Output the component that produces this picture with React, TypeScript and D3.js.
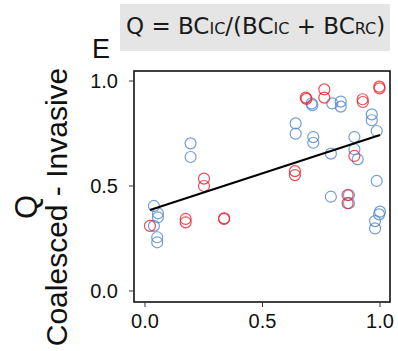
import React from 'react';
import * as d3 from 'd3';

const width = 398;
const height = 351;

// invasive-coalesced pairs, red group
const redX = [0.021, 0.173, 0.173, 0.251, 0.251, 0.336, 0.337, 0.638, 0.638, 0.684, 0.687, 0.763, 0.763, 0.862, 0.862, 0.891, 0.926, 0.927, 0.997, 0.998];
const redY = [0.31, 0.343, 0.327, 0.535, 0.5, 0.343, 0.346, 0.571, 0.552, 0.921, 0.915, 0.96, 0.921, 0.457, 0.418, 0.643, 0.913, 0.9, 0.973, 0.965];

// blue group
const blueX = [0.038, 0.055, 0.055, 0.038, 0.052, 0.052, 0.194, 0.194, 0.641, 0.641, 0.709, 0.712, 0.716, 0.716, 0.791, 0.797, 0.833, 0.833, 0.791, 0.868, 0.868, 0.891, 0.891, 0.905, 0.965, 0.965, 0.986, 0.986, 1.0, 0.996, 0.979, 0.979];
const blueY = [0.405, 0.37, 0.351, 0.31, 0.256, 0.232, 0.703, 0.638, 0.798, 0.749, 0.893, 0.885, 0.733, 0.706, 0.654, 0.893, 0.902, 0.878, 0.449, 0.457, 0.418, 0.733, 0.675, 0.627, 0.841, 0.813, 0.762, 0.524, 0.378, 0.365, 0.333, 0.298];

// fitted line (intercept, slope) and its x span
const fitCoef = [0.378, 0.365];
const fitSpan = [0.021, 1.0];

const xTicks = [0, 0.5, 1];
const yTicks = [0, 0.5, 1];

const blue = '#4f86cc';
const red = '#e6202a';

const panel = { left: 134, right: 390, top: 71, bottom: 302 };

export default function App() {
  const x = d3.scaleLinear().domain([0, 1]).range([145, 380]);
  const y = d3.scaleLinear().domain([0, 1]).range([291, 81]);

  const fit = d3
    .line<number>()
    .x((d) => x(d))
    .y((d) => y(fitCoef[0] + fitCoef[1] * d));

  const fmt = d3.format('.1f');
  const sans = 'Liberation Sans, Arial, sans-serif';

  return (
    <svg
      width={width}
      height={height}
      style={{ position: 'absolute', left: 0, top: 0, background: '#fff' }}
    >
      {/* title strip */}
      <rect x={120} y={4} width={270} height={47} fill="#e5e5e5" />
      <text x={126} y={34} fontFamily="DejaVu Sans, sans-serif" fontSize={23} fill="#1a1a1a">
        Q = BC<tspan fontSize={16}>IC</tspan>/(BC<tspan fontSize={16}>IC</tspan> + BC
        <tspan fontSize={16}>RC</tspan>)
      </text>
      <text x={92} y={58} fontFamily={sans} fontSize={27} fill="#111">
        E
      </text>

      {/* y label */}
      <text
        transform="translate(37,207) rotate(-90)"
        textAnchor="middle"
        fontFamily={sans}
        fontSize={31}
        fill="#111"
      >
        Q
      </text>
      <text
        transform="translate(67,207) rotate(-90)"
        textAnchor="middle"
        fontFamily={sans}
        fontSize={30}
        fill="#111"
      >
        Coalesced - Invasive
      </text>

      {/* points */}
      <g fill="none" strokeWidth={1.2} strokeOpacity={0.8}>
        {blueX.map((v, i) => (
          <circle key={'b' + i} cx={x(v)} cy={y(blueY[i])} r={5.5} stroke={blue} />
        ))}
        {redX.map((v, i) => (
          <circle key={'r' + i} cx={x(v)} cy={y(redY[i])} r={5.5} stroke={red} />
        ))}
      </g>

      <path d={fit(fitSpan) ?? ''} stroke="#000" strokeWidth={2} fill="none" />

      {/* panel border */}
      <rect
        x={panel.left}
        y={panel.top}
        width={panel.right - panel.left}
        height={panel.bottom - panel.top}
        fill="none"
        stroke="#111"
        strokeWidth={1.6}
      />

      {/* y axis ticks */}
      {yTicks.map((t) => (
        <g key={'y' + t}>
          <line x1={panel.left - 5} x2={panel.left} y1={y(t)} y2={y(t)} stroke="#333" strokeWidth={1} />
          <text
            x={panel.left - 16}
            y={y(t)}
            dy="0.36em"
            textAnchor="end"
            fontFamily={sans}
            fontSize={20}
            fill="#111"
          >
            {fmt(t)}
          </text>
        </g>
      ))}

      {/* x axis ticks */}
      {xTicks.map((t) => (
        <g key={'x' + t}>
          <line x1={x(t)} x2={x(t)} y1={panel.bottom} y2={panel.bottom + 5} stroke="#333" strokeWidth={1} />
          <text x={x(t)} y={328} textAnchor="middle" fontFamily={sans} fontSize={20} fill="#111">
            {fmt(t)}
          </text>
        </g>
      ))}
    </svg>
  );
}
